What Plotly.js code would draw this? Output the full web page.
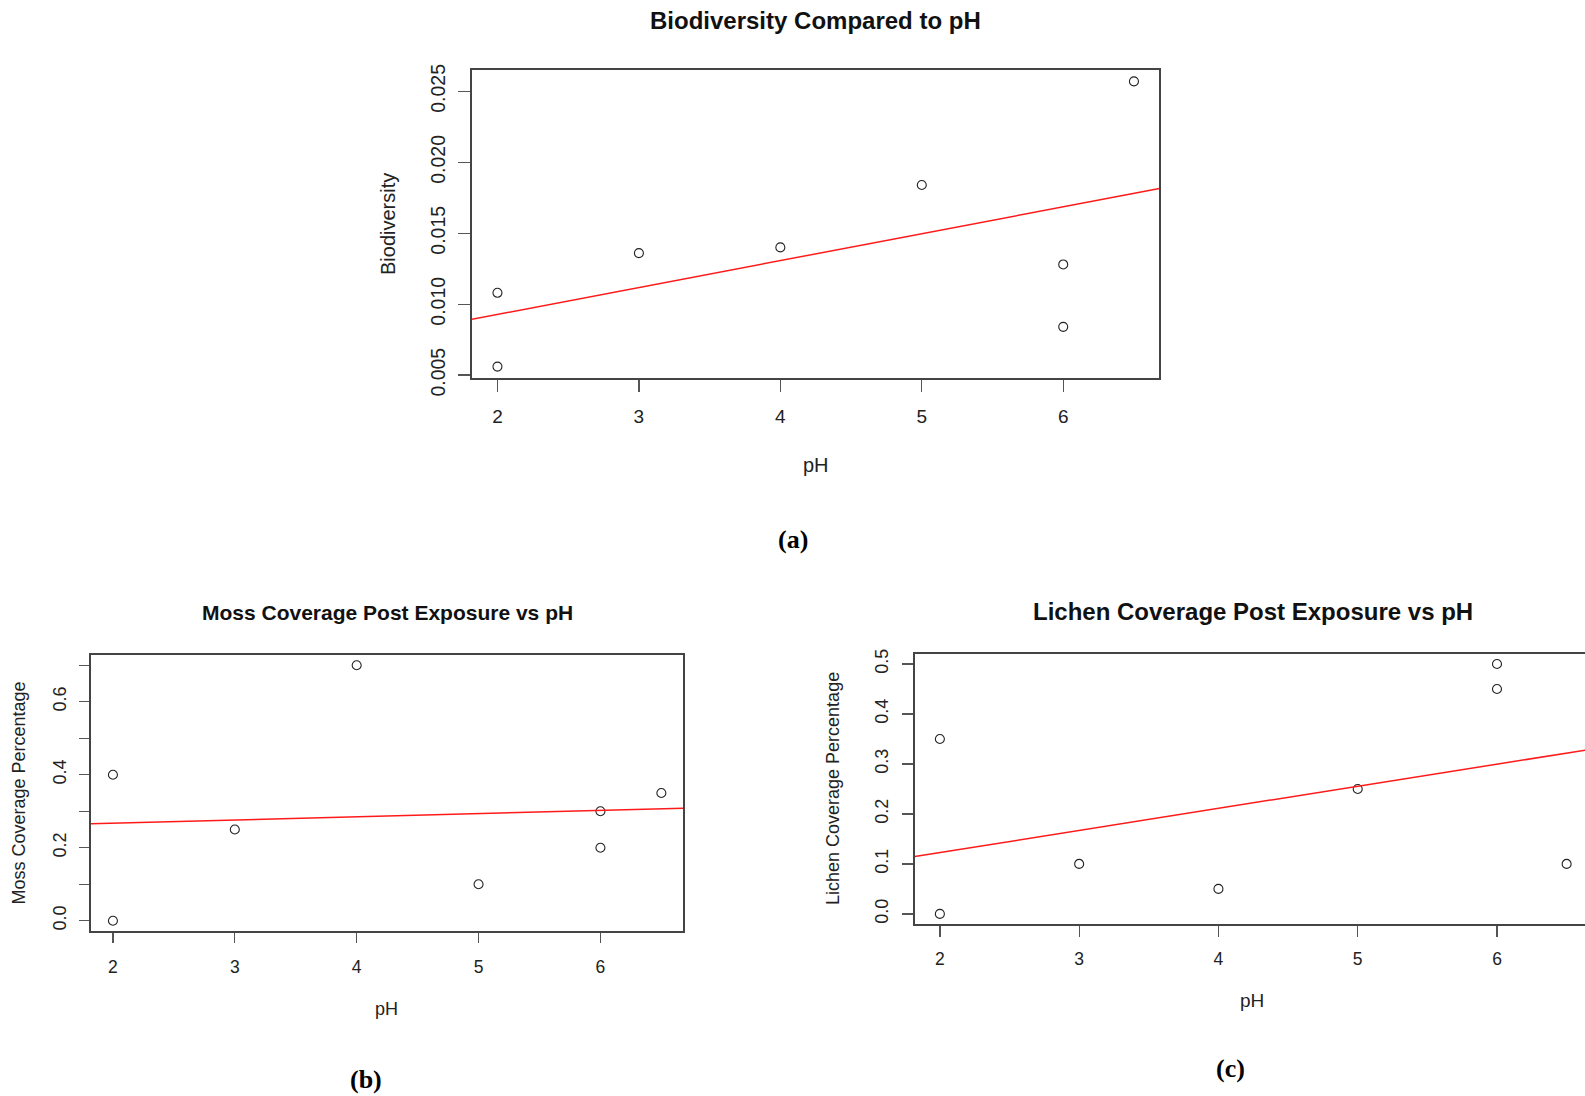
<!DOCTYPE html>
<html>
<head>
<meta charset="utf-8">
<script src="https://cdn.plot.ly/plotly-3.0.1.min.js"></script>
<style>
  html, body { margin: 0; padding: 0; background: #ffffff; }
  #chart { width: 1585px; height: 1096px; }
</style>
</head>
<body>
<div id="chart"></div>
<script>
// ---------------- data ----------------
const pH = [2, 2, 3, 4, 5, 6, 6, 6.5];
const biodiversity = [0.0108, 0.0056, 0.0136, 0.0140, 0.0184, 0.0128, 0.0084, 0.0257];
const mossCoverage = [0.40, 0.00, 0.25, 0.70, 0.10, 0.30, 0.20, 0.35];
const lichenCoverage = [0.35, 0.00, 0.10, 0.05, 0.25, 0.50, 0.45, 0.10];

const xTickVals = [2, 3, 4, 5, 6];
const xTickText = ["2", "3", "4", "5", "6"];
const yTickValsA = [0.005, 0.010, 0.015, 0.020, 0.025];
const yTickTextA = ["0.005", "0.010", "0.015", "0.020", "0.025"];
const yTickValsB = [0.0, 0.1, 0.2, 0.3, 0.4, 0.5, 0.6, 0.7];
const yTickTextB = ["0.0", "", "0.2", "", "0.4", "", "0.6", ""];
const yTickValsC = [0.0, 0.1, 0.2, 0.3, 0.4, 0.5];
const yTickTextC = ["0.0", "0.1", "0.2", "0.3", "0.4", "0.5"];

const titles = {
  a: "Biodiversity Compared to pH",
  b: "Moss Coverage Post Exposure vs pH",
  c: "Lichen Coverage Post Exposure vs pH"
};
const xTitle = "pH";
const yTitles = { a: "Biodiversity", b: "Moss Coverage Percentage", c: "Lichen Coverage Percentage" };
const panelLabels = ["(a)", "(b)", "(c)"];

// ---------------- helpers ----------------
const W = 1585, H = 1096;
const px = v => v / W;
const py = v => 1 - v / H;

// R-style axis range: data range extended by 4% on each side
function rRange(arr) {
  const mn = Math.min(...arr), mx = Math.max(...arr), r = mx - mn;
  return [mn - 0.04 * r, mx + 0.04 * r];
}
// least squares fit (abline(lm(y ~ x)))
function fit(x, y) {
  const n = x.length;
  const mx = x.reduce((a, b) => a + b, 0) / n;
  const my = y.reduce((a, b) => a + b, 0) / n;
  let sxy = 0, sxx = 0;
  for (let i = 0; i < n; i++) { sxy += (x[i] - mx) * (y[i] - my); sxx += (x[i] - mx) ** 2; }
  const b = sxy / sxx;
  return { a: my - b * mx, b: b };
}

const xr = rRange(pH);
const SANS = "Liberation Sans, Arial, Helvetica, sans-serif";
const SERIF = "Liberation Serif, Times New Roman, serif";

function pointsTrace(y, xa, ya) {
  return {
    x: pH, y: y, xaxis: xa, yaxis: ya, type: "scatter", mode: "markers",
    marker: { symbol: "circle-open", size: 9, color: "#222222", line: { width: 1.1, color: "#222222" } },
    showlegend: false, hoverinfo: "x+y"
  };
}
function fitTrace(y, xa, ya) {
  const f = fit(pH, y);
  const xs = [xr[0], xr[1]];
  return {
    x: xs, y: xs.map(v => f.a + f.b * v), xaxis: xa, yaxis: ya, type: "scatter", mode: "lines",
    line: { color: "#ff1a1a", width: 1.5 }, showlegend: false, hoverinfo: "skip"
  };
}

const data = [
  pointsTrace(biodiversity, "x", "y"), fitTrace(biodiversity, "x", "y"),
  pointsTrace(mossCoverage, "x2", "y2"), fitTrace(mossCoverage, "x2", "y2"),
  pointsTrace(lichenCoverage, "x3", "y3"), fitTrace(lichenCoverage, "x3", "y3")
];

function xAxis(domain, range, fs, tl, so, anchor) {
  return {
    domain: domain, range: range, anchor: anchor,
    tickmode: "array", tickvals: xTickVals, ticktext: xTickText,
    ticks: "outside", ticklen: tl, tickwidth: 1.3, tickcolor: "#555555",
    ticklabelstandoff: so,
    showline: true, mirror: true, linecolor: "#444444", linewidth: 1.6,
    showgrid: false, zeroline: false,
    tickfont: { family: SANS, size: fs, color: "#222222" }
  };
}
function yAxis(domain, range, vals, text, fs, tl, so, anchor, mirror) {
  return {
    domain: domain, range: range, anchor: anchor,
    tickmode: "array", tickvals: vals, ticktext: text, tickangle: -90,
    ticks: "outside", ticklen: tl, tickwidth: 1.3, tickcolor: "#555555",
    ticklabelstandoff: so,
    showline: true, mirror: mirror, linecolor: "#444444", linewidth: 1.6,
    showgrid: false, zeroline: false,
    tickfont: { family: SANS, size: fs, color: "#222222" }
  };
}

// panel boxes in pixels
const boxA = { l: 472, r: 1159.4, t: 70, b: 378 };
const boxB = { l: 91, r: 683.3, t: 655, b: 931 };
const boxC = { l: 914.8, r: 1591.7, t: 654, b: 923.9 };
// panel (c) runs off the right edge of the page: keep its scale and cut it at the edge
const cFrac = (W - boxC.l) / (boxC.r - boxC.l);
const xrC = [xr[0], xr[0] + (xr[1] - xr[0]) * cFrac];

const layout = {
  width: W, height: H,
  margin: { l: 0, r: 0, t: 0, b: 0 },
  paper_bgcolor: "#ffffff", plot_bgcolor: "#ffffff",
  showlegend: false,
  xaxis: xAxis([px(boxA.l), px(boxA.r)], xr, 19, 12, 9, "y"),
  yaxis: yAxis([py(boxA.b), py(boxA.t)], rRange(biodiversity), yTickValsA, yTickTextA, 19.5, 12, 6, "x", true),
  xaxis2: xAxis([px(boxB.l), px(boxB.r)], xr, 17.5, 10, 9, "y2"),
  yaxis2: yAxis([py(boxB.b), py(boxB.t)], rRange(mossCoverage), yTickValsB, yTickTextB, 18, 10, 6, "x2", true),
  xaxis3: xAxis([px(boxC.l), 1], xrC, 17.5, 11, 7, "y3"),
  yaxis3: yAxis([py(boxC.b), py(boxC.t)], rRange(lichenCoverage), yTickValsC, yTickTextC, 18, 11, 7, "x3", false),
  annotations: [
    // plot titles
    { text: "<b>" + titles.a + "</b>", x: px(816), y: py(20), font: { family: SANS, size: 24, color: "#111" } },
    { text: "<b>" + titles.b + "</b>", x: px(387), y: py(612), font: { family: SANS, size: 21, color: "#111" } },
    { text: "<b>" + titles.c + "</b>", x: px(1253), y: py(611), font: { family: SANS, size: 24, color: "#111" } },
    // x titles
    { text: xTitle, x: px(815.7), y: py(465), font: { family: SANS, size: 20, color: "#222" } },
    { text: xTitle, x: px(386), y: py(1009), font: { family: SANS, size: 18, color: "#222" } },
    { text: xTitle, x: px(1252), y: py(1000), font: { family: SANS, size: 19, color: "#222" } },
    // y titles
    { text: yTitles.a, x: px(388), y: py(224), textangle: -90, font: { family: SANS, size: 20, color: "#222" } },
    { text: yTitles.b, x: px(18.5), y: py(793), textangle: -90, font: { family: SANS, size: 18, color: "#222" } },
    { text: yTitles.c, x: px(833), y: py(789), textangle: -90, font: { family: SANS, size: 18, color: "#222" } },
    // panel labels
    { text: "<b>" + panelLabels[0] + "</b>", x: px(792.5), y: py(539), font: { family: SERIF, size: 26, color: "#000" } },
    { text: "<b>" + panelLabels[1] + "</b>", x: px(366), y: py(1079.5), font: { family: SERIF, size: 26, color: "#000" } },
    { text: "<b>" + panelLabels[2] + "</b>", x: px(1230), y: py(1068.4), font: { family: SERIF, size: 26, color: "#000" } }
  ].map(a => Object.assign({ xref: "paper", yref: "paper", xanchor: "center", yanchor: "middle", showarrow: false }, a))
};

Plotly.newPlot("chart", data, layout, { displayModeBar: false, staticPlot: true });
</script>
</body>
</html>
